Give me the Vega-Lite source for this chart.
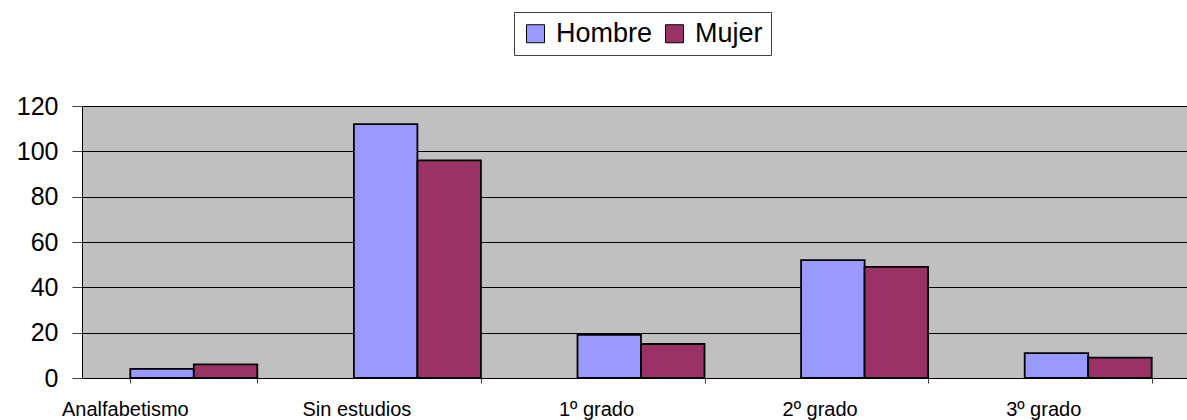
{
  "$schema": "https://vega.github.io/schema/vega-lite/v6.json",
  "width": 1105,
  "height": 272,
  "autosize": {"type": "none"},
  "padding": {"left": 82, "top": 106, "right": 0, "bottom": 42},
  "background": "white",
  "config": {
    "font": "Liberation Sans",
    "view": {"fill": "#C0C0C0", "stroke": "#808080", "strokeWidth": 1}
  },
  "data": {
    "values": [
      {"nivel": "Analfabetismo", "sexo": "Hombre", "valor": 4},
      {"nivel": "Analfabetismo", "sexo": "Mujer", "valor": 6},
      {"nivel": "Sin estudios", "sexo": "Hombre", "valor": 112},
      {"nivel": "Sin estudios", "sexo": "Mujer", "valor": 96},
      {"nivel": "1º grado", "sexo": "Hombre", "valor": 19},
      {"nivel": "1º grado", "sexo": "Mujer", "valor": 15},
      {"nivel": "2º grado", "sexo": "Hombre", "valor": 52},
      {"nivel": "2º grado", "sexo": "Mujer", "valor": 49},
      {"nivel": "3º grado", "sexo": "Hombre", "valor": 11},
      {"nivel": "3º grado", "sexo": "Mujer", "valor": 9}
    ]
  },
  "mark": {"type": "bar", "stroke": "black", "strokeWidth": 1.8},
  "encoding": {
    "x": {
      "field": "nivel",
      "type": "nominal",
      "sort": ["Analfabetismo", "Sin estudios", "1º grado", "2º grado", "3º grado"],
      "scale": {"range": [0, 1118], "paddingInner": 0.432, "paddingOuter": 0.216},
      "axis": {
        "title": null,
        "labelAngle": 0,
        "labelFontSize": 20,
        "labelColor": "black",
        "labelBaseline": "top",
        "labelPadding": 16,
        "labelOffset": {"expr": "datum.value == 'Analfabetismo' ? -69 : datum.value == 'Sin estudios' ? -61 : -45"},
        "domainColor": "black",
        "tickColor": "#404040",
        "tickSize": 5,
        "tickBand": "extent",
        "grid": false
      }
    },
    "xOffset": {
      "field": "sexo",
      "type": "nominal",
      "sort": ["Hombre", "Mujer"],
      "scale": {"paddingInner": 0, "paddingOuter": 0}
    },
    "y": {
      "field": "valor",
      "type": "quantitative",
      "scale": {"domain": [0, 120], "nice": false},
      "axis": {
        "title": null,
        "values": [0, 20, 40, 60, 80, 100, 120],
        "labelFontSize": 25,
        "labelColor": "black",
        "labelPadding": 14,
        "tickSize": 10,
        "tickColor": "#404040",
        "domainColor": "black",
        "gridColor": "black",
        "gridWidth": 1
      }
    },
    "color": {
      "field": "sexo",
      "type": "nominal",
      "scale": {"domain": ["Hombre", "Mujer"], "range": ["#9999FF", "#993366"]},
      "legend": {
        "title": null,
        "orient": "none",
        "legendX": 432,
        "legendY": -94,
        "direction": "horizontal",
        "strokeColor": "#404040",
        "fillColor": "white",
        "padding": 8,
        "labelFontSize": 27,
        "labelColor": "black",
        "labelOffset": 7,
        "columnPadding": 8,
        "symbolType": "square",
        "symbolSize": 324,
        "symbolStrokeColor": "black",
        "symbolStrokeWidth": 1,
        "symbolOpacity": 1
      }
    }
  }
}
